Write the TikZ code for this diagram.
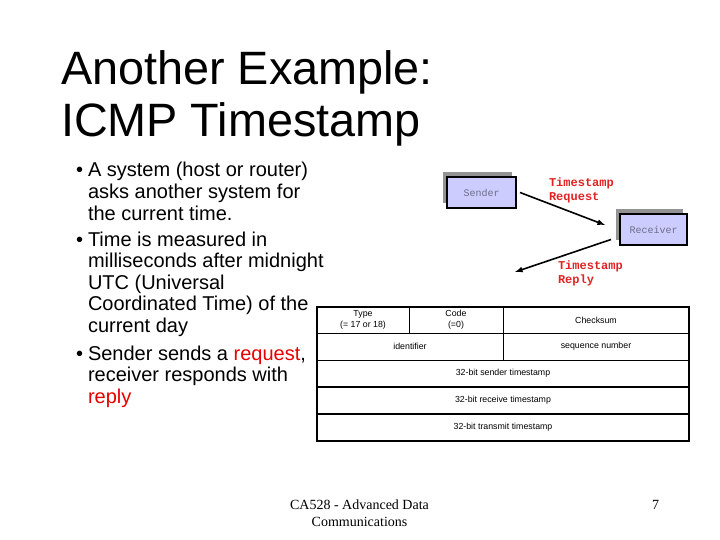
\documentclass[tikz,border=0pt]{standalone}
\usepackage{fontspec}
\setmainfont{Liberation Sans}
\newfontfamily\footfont{Liberation Serif}
\newfontfamily\msgfont{Liberation Mono}
\usetikzlibrary{shadows}
\definecolor{hostblue}{RGB}{204,204,255}
\definecolor{msgred}{RGB}{225,35,35}
\definecolor{hosttext}{RGB}{110,110,135}
\definecolor{wordred}{RGB}{230,0,0}

\begin{document}
\begin{tikzpicture}[
        x=1pt, y=-1pt,
        every node/.style={inner sep=0pt, outer sep=0pt},
        titletext/.style={anchor=base west, align=left, font=\fontsize{46.8}{52}\selectfont},
        bullettext/.style={anchor=base west, align=left, font=\fontsize{20}{21.6}\selectfont},
        host/.style={draw, line width=1.2pt, fill=hostblue, minimum width=69pt, minimum height=31pt,
            font=\msgfont\fontsize{10}{12}\selectfont, text=hosttext,
            general shadow={fill=gray!85, draw=none, shadow xshift=-4pt, shadow yshift=5pt}},
        msglabel/.style={anchor=north west, align=left, text=msgred, font=\msgfont\bfseries\fontsize{12}{14}\selectfont},
        msg/.style={draw, line width=1.6pt, -latex},
        cell/.style={draw, line width=0.8pt, anchor=north west, minimum height=27pt, align=center,
            font=\fontsize{8.8}{11}\selectfont}
    ]
    \useasboundingbox[fill=white] (0,0) rectangle (720,540);

    % title and bullets (base = last line)
    \node[titletext] (title) at (61,137) {Another Example:\\ICMP Timestamp};

    \node[bullettext] (dot1) at (76,177) {\textbullet};
    \node[bullettext] (item1) at (88,220.2) {A system (host or router)\\asks another system for\\the current time.};
    \node[bullettext] (dot2) at (76,246) {\textbullet};
    \node[bullettext] (item2) at (88,332.4) {Time is measured in\\milliseconds after midnight\\UTC (Universal\\Coordinated Time) of the\\current day};
    \node[bullettext] (dot3) at (76,360) {\textbullet};
    \node[bullettext] (item3) at (88,403.2) {Sender sends a \textcolor{wordred}{request},\\receiver responds with\\\textcolor{wordred}{reply}};

    % exchange
    \node[host] (sender) at (481.5,192.5) {Sender};
    \node[host, minimum width=67pt] (receiver) at (653.5,229.5) {Receiver};
    \coordinate (reqend) at (605,225);
    \coordinate (replyend) at (515,272);
    \draw[msg] ([xshift=4]sender.east) -- (reqend);
    \draw[msg] ([shift={(-9,10)}]receiver.west) -- (replyend);
    \node[msglabel] (reqlabel) at (549,178) {Timestamp\\Request};
    \node[msglabel] (replylabel) at (558,261) {Timestamp\\Reply};

    % message format
    \node[cell, minimum width=92pt, minimum height=26pt] (type) at (317,307) {Type\\(= 17 or 18)};
    \node[cell, minimum width=94pt, minimum height=26pt] (code) at (409,307) {Code\\(=0)};
    \node[cell, minimum width=186pt, minimum height=26pt] (checksum) at (503,307) {Checksum};
    \node[cell, minimum width=186pt] (ident) at (317,333) {identifier};
    \node[cell, minimum width=186pt] (seqnum) at (503,333) {sequence number};
    \node[cell, minimum width=372pt] (sendts) at (317,360) {32-bit sender timestamp};
    \node[cell, minimum width=372pt] (recvts) at (317,387) {32-bit receive timestamp};
    \node[cell, minimum width=372pt] (transts) at (317,414) {32-bit transmit timestamp};
    \draw[line width=2.4pt] (sendts.south west) -- (sendts.south east);
    \draw[line width=2.4pt] (recvts.south west) -- (recvts.south east);
    \draw[line width=1.4pt] (type.north west) rectangle (transts.south east);

    % footer
    \node[anchor=base, align=center, font=\footfont\fontsize{14}{17}\selectfont] (footer) at (359.5,526) {CA528 - Advanced Data\\Communications};
    \node[anchor=base, font=\footfont\fontsize{14}{17}\selectfont] (pagenum) at (655.5,509) {7};
\end{tikzpicture}
\end{document}
